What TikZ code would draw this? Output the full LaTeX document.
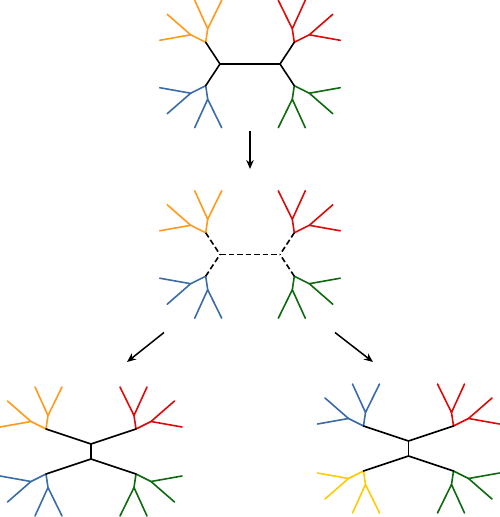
\documentclass[tikz,border=0pt]{standalone}
\usetikzlibrary{arrows.meta}
\definecolor{cOrange}{HTML}{FF9A1A}
\definecolor{cRed}{HTML}{DD0A0A}
\definecolor{cBlue}{HTML}{3A6CA6}
\definecolor{cGreen}{HTML}{0E6A0E}
\definecolor{cYellow}{HTML}{FFCC00}
\tikzset{
  edge/.style={line width=1.6pt, line cap=round, line join=round},
  inner/.style={edge, black},
  dashedinner/.style={edge, black, line cap=butt, dash pattern=on 5.5pt off 3pt},
  flow/.style={line width=1.5pt, -{Stealth[length=9pt,width=7.5pt]}}
}
\newcommand\subtr[6]{%
  \begin{scope}[shift={(#2,#3)}, xscale=#4, yscale=#5]
    \coordinate (#1) at (0,0);
    \coordinate (#1a) at (2,-13.5);
    \coordinate (#1a1) at (-11,-42);
    \coordinate (#1a2) at (16,-42);
    \coordinate (#1b) at (-15,-7.5);
    \coordinate (#1b1) at (-46,-2);
    \coordinate (#1b2) at (-38.5,-28);
    \draw[edge, #6] (#1a1) -- (#1a) -- (#1a2);
    \draw[edge, #6] (#1b1) -- (#1b) -- (#1b2);
    \draw[edge, #6] (#1a) -- (#1) -- (#1b);
  \end{scope}}
\begin{document}
\begin{tikzpicture}[x=1pt,y=-1pt]
\useasboundingbox (0,0) rectangle (500,517);
% top tree
\subtr{to}{205.7}{42.3}{1}{1}{cOrange}
\subtr{tr}{294.3}{42.3}{-1}{1}{cRed}
\subtr{tb}{205.7}{85.7}{1}{-1}{cBlue}
\subtr{tg}{294.3}{85.7}{-1}{-1}{cGreen}
\coordinate (tL) at (220,64);
\coordinate (tR) at (280,64);
\draw[inner] (to) -- (tL) -- (tb);
\draw[inner] (tL) -- (tR);
\draw[inner] (tr) -- (tR) -- (tg);
% middle tree
\subtr{mo}{205.7}{232.8}{1}{1}{cOrange}
\subtr{mr}{294.3}{232.8}{-1}{1}{cRed}
\subtr{mb}{205.7}{276.2}{1}{-1}{cBlue}
\subtr{mg}{294.3}{276.2}{-1}{-1}{cGreen}
\coordinate (mL) at (220,254.5);
\coordinate (mR) at (280,254.5);
\draw[dashedinner] (mo) -- (mL);
\draw[dashedinner] (mb) -- (mL);
\draw[dashedinner] (mL) -- (mR);
\draw[dashedinner] (mr) -- (mR);
\draw[dashedinner] (mg) -- (mR);
% bottom-left tree
\subtr{lo}{46}{429}{1}{1}{cOrange}
\subtr{lr}{136}{429}{-1}{1}{cRed}
\subtr{lb}{46}{474}{1}{-1}{cBlue}
\subtr{lg}{136}{474}{-1}{-1}{cGreen}
\coordinate (lU) at (91,444);
\coordinate (lD) at (91,459);
\draw[inner] (lo) -- (lU) -- (lr);
\draw[inner] (lU) -- (lD);
\draw[inner] (lb) -- (lD) -- (lg);
% bottom-right tree
\subtr{rb}{363.5}{426}{1}{1}{cBlue}
\subtr{rr}{453.5}{426}{-1}{1}{cRed}
\subtr{ry}{363.5}{471}{1}{-1}{cYellow}
\subtr{rg}{453.5}{471}{-1}{-1}{cGreen}
\coordinate (rU) at (408.5,441);
\coordinate (rD) at (408.5,456);
\draw[inner] (rb) -- (rU) -- (rr);
\draw[inner] (rU) -- (rD);
\draw[inner] (ry) -- (rD) -- (rg);
% arrows
\coordinate (a1s) at (250,131);
\coordinate (a1e) at (250,169);
\coordinate (a2s) at (164,332.5);
\coordinate (a2e) at (127,362);
\coordinate (a3s) at (335,332.5);
\coordinate (a3e) at (373,362);
\draw[flow] (a1s) -- (a1e);
\draw[flow] (a2s) -- (a2e);
\draw[flow] (a3s) -- (a3e);
\end{tikzpicture}
\end{document}
